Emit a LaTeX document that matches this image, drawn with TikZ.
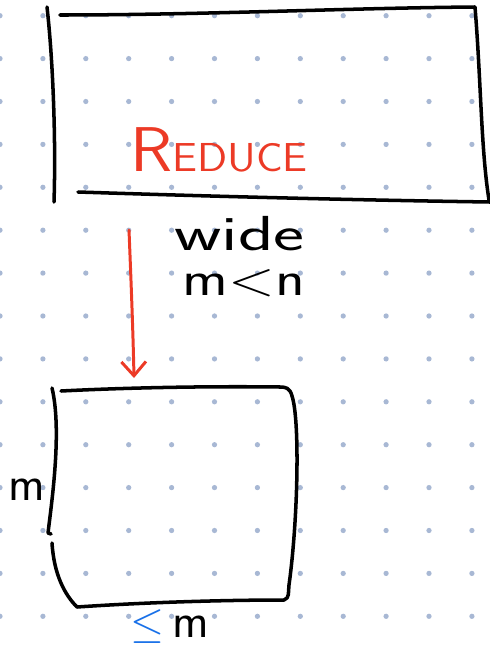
\documentclass[tikz,border=0pt]{standalone}
\usepackage{tikz}
\usetikzlibrary{arrows.meta}
\definecolor{penred}{RGB}{236,58,38}
\definecolor{penblue}{RGB}{24,112,232}
\definecolor{dotgrey}{RGB}{168,184,212}

\begin{document}
\begin{tikzpicture}[x=0.02cm, y=-0.02cm,
  pen/.style={line width=2pt, line cap=round, line join=round, draw=#1},
  pen/.default=black,
  ar/.style={-{Straight Barb[length=8pt,width=14pt]}, line width=1.7pt,
             line cap=round, #1},
  lb/.style={font=\sffamily\fontsize{28}{30}\selectfont, text=#1, inner sep=0pt},
  lb/.default=black
]
\useasboundingbox (0,0) rectangle (490,646);
\foreach \i in {0,...,11}
  \foreach \j in {0,...,14}
    \fill[dotgrey] (42.9*\i, 15.7+42.9*\j) circle (1.5pt);

\draw[pen] (47,7) .. controls (53,60) and (56,140) .. (54,202);
\draw[pen] (60,15) .. controls (200,15) and (350,8) .. (475,7)
           .. controls (481,80) and (481,150) .. (489,200);
\draw[pen] (78,192) .. controls (200,196) and (350,200) .. (490,202);

\draw[pen] (52,388) .. controls (62,430) and (52,500) .. (48,533) -- (51,534);
\draw[pen] (52,543) .. controls (54,575) and (65,595) .. (77,607)
           .. controls (150,602) and (230,600) .. (284,600)
           .. controls (290,598) and (288,592) .. (289,585)
           .. controls (298,520) and (300,420) .. (292,396)
           .. controls (290,388) and (286,387) .. (280,387)
           .. controls (200,386) and (120,388) .. (61,391);

\node[lb=penred, anchor=base west] (red) at (130,171)
  {\scalebox{1.1}[1]{{\fontsize{36}{36}\selectfont R}{\fontsize{23}{23}\selectfont EDUCE}}};
\node[lb, anchor=base west] (wide) at (174,250) {\scalebox{1.5}[1]{wide}};
\node[lb, anchor=base west] (cmp) at (182,295) {\scalebox{1.25}[1]{m{<}n}};
\node[lb, anchor=base east] (rows) at (46,500) {m};
\node[lb, anchor=base west] (cols) at (130,637) {\textcolor{penblue}{$\leq$}\,m};

\coordinate (src) at (129,230);
\coordinate (dst) at (134,378);
\draw[ar=penred] (src) .. controls (131,280) and (133,330) .. (dst);
\end{tikzpicture}
\end{document}
